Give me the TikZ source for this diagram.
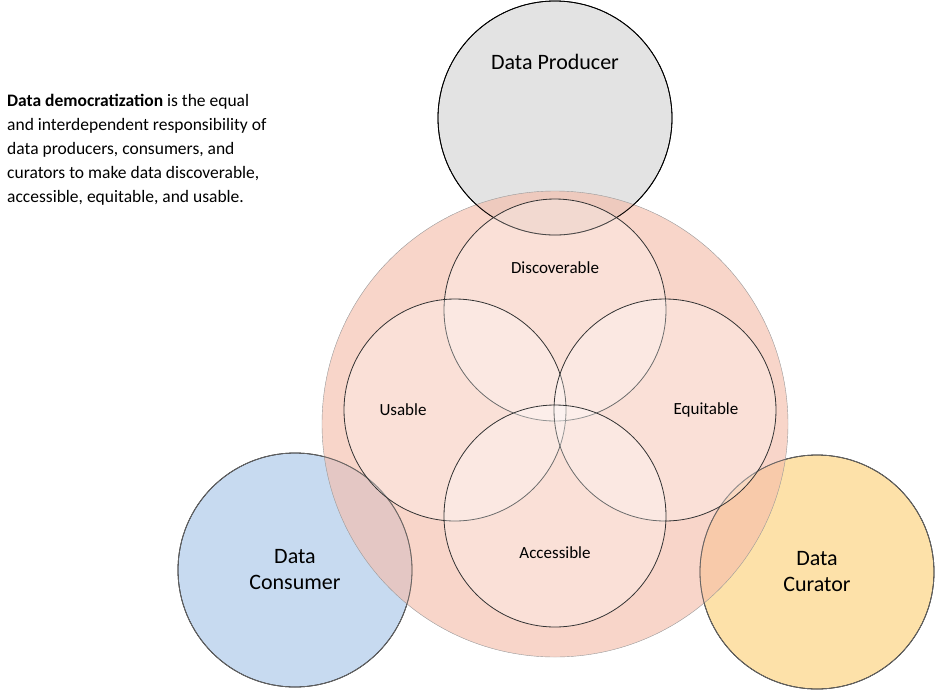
\documentclass[tikz,border=0pt]{standalone}
\usepackage{fontspec}
\setmainfont{Carlito}
\begin{document}
\begin{tikzpicture}[x=1pt,y=-1pt,
  every node/.style={inner sep=0pt},
  role/.style={circle,draw=black,thick,minimum size=234pt,fill opacity=0.75,text opacity=1,
    font=\fontsize{22}{26}\selectfont,align=center},
  facet/.style={circle,draw=black!80,thick,minimum size=222pt,fill=white,fill opacity=0.28,
    text opacity=1,font=\fontsize{16}{19}\selectfont}]
\useasboundingbox (0,0) rectangle (935,689);
% outer roles
\node[role,fill=black!15] (prod) at (555,118) {};
\node[role,fill={rgb,255:red,180;green,205;blue,235}] (cons) at (295,570) {Data\\Consumer};
\node[role,fill={rgb,255:red,252;green,215;blue,140}] (cur) at (817,572) {Data\\Curator};
% democratization
\node[circle,draw=black!40,minimum size=466pt,fill={rgb,255:red,245;green,190;blue,172},
  fill opacity=0.65] (demo) at (555,424) {};
\draw[thick] (prod) circle[radius=117pt];
\draw[thick,black!60] (cons) circle[radius=117pt] (cur) circle[radius=117pt];
\node at (555,62) [font=\fontsize{22}{26}\selectfont] {Data Producer};
% facets
\node[facet] (disc) at (555,310) {};
\node[facet] (usa) at (455,410) {};
\node[facet] (equ) at (665,410) {};
\node[facet] (acc) at (555,516) {};
\node at (555,268) [font=\fontsize{17}{20}\selectfont] {Discoverable};
\node at (403,410) [font=\fontsize{17}{20}\selectfont] {Usable};
\node at (706,410) [font=\fontsize{17}{20}\selectfont] {Equitable};
\node at (555,553) [font=\fontsize{17}{20}\selectfont] {Accessible};
% definition
\node[anchor=north west,align=left,font=\fontsize{17.5}{24}\selectfont] (def) at (7,94)
  {\textbf{Data democratization} is the equal\\
   and interdependent responsibility of\\
   data producers, consumers, and\\
   curators to make data discoverable,\\
   accessible, equitable, and usable.};
\end{tikzpicture}
\end{document}
